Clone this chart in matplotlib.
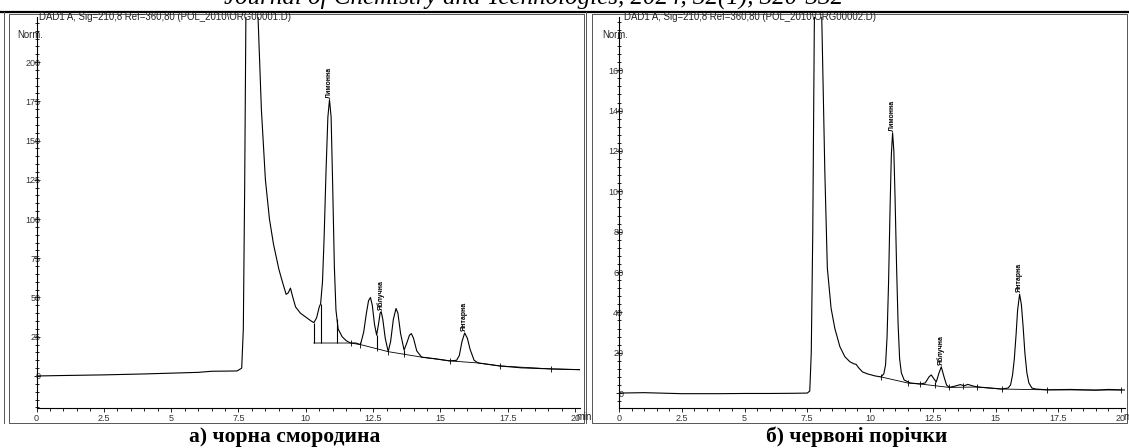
import numpy as np
import matplotlib
matplotlib.use("Agg")
import matplotlib.pyplot as plt
from matplotlib.lines import Line2D
from matplotlib.ticker import MultipleLocator

# ==============================================================================
# DATA
# ==============================================================================
# а) чорна смородина: time [min], signal [Norm.]
left_t = [0.0, 1.0, 2.5, 4.0, 5.0, 6.0, 6.5, 7.0, 7.45, 7.62, 7.68, 7.73, 7.78, 7.95,
          8.15, 8.23, 8.35, 8.5, 8.65, 8.8, 9.0, 9.13, 9.27, 9.35, 9.43, 9.52, 9.62,
          9.8, 10.0, 10.2, 10.3, 10.4, 10.5, 10.55, 10.62, 10.68, 10.75, 10.82, 10.88,
          10.94, 11.0, 11.06, 11.12, 11.2, 11.35, 11.5, 11.66, 11.85, 12.03, 12.15,
          12.25, 12.33, 12.4, 12.47, 12.55, 12.63, 12.7, 12.76, 12.8, 12.86, 12.95,
          13.06, 13.15, 13.25, 13.35, 13.42, 13.52, 13.65, 13.75, 13.85, 13.92, 14.0,
          14.12, 14.3, 14.8, 15.35, 15.6, 15.7, 15.8, 15.9, 16.0, 16.1, 16.25, 16.4,
          17.2, 18.0, 19.1, 20.2]
left_y = [0.0, 0.3, 0.7, 1.3, 1.8, 2.3, 3.0, 3.1, 3.2, 5, 30, 120, 240, 420,
          300, 227, 170, 125, 100, 84, 68, 60, 52, 53, 56, 50, 44,
          40, 37.5, 35, 34, 37, 44, 46, 60, 88, 130, 165, 176,
          165, 120, 70, 42, 30, 25, 22.5, 21, 21, 20, 28,
          40, 48, 50, 45, 33, 26, 33, 40, 41, 36, 24,
          15.5, 22, 36, 43, 40, 27, 16.5, 21, 26, 27, 24,
          16, 12, 11, 9.6, 10, 13, 22, 27.4, 24, 17, 10, 8.3,
          6.4, 5.2, 4.5, 4.0]
# integration baseline, drop lines and event marks
left_base_t = [10.3, 11.66, 12.03, 13.06, 14.3, 15.35, 16.4, 17.2, 19.1, 20.2]
left_base_y = [21, 21, 20, 15.5, 12, 9.6, 8.3, 6.4, 4.5, 4.0]
left_drop_t = [10.3, 10.55, 11.15, 12.63, 13.65]
left_drop_lo = [21, 21, 21, 17.8, 13.8]
left_drop_hi = [34, 46, 36, 26, 16.5]
left_marks_t = [11.66, 12.03, 12.63, 13.06, 13.65, 15.35, 17.2, 19.1]
left_marks_y = [21, 20, 17.8, 15.5, 13.8, 9.6, 6.4, 4.5]
left_peaks_t = [10.88, 12.8, 15.9]
left_peaks_y = [176, 41, 27.4]
left_yticks = [0, 25, 50, 75, 100, 125, 150, 175, 200]

# б) червоні порічки
right_t = [0.0, 1.0, 2.5, 4.0, 5.0, 6.0, 7.0, 7.5, 7.6, 7.66, 7.72, 7.78, 7.9, 8.0,
           8.08, 8.2, 8.3, 8.45, 8.6, 8.8, 9.0, 9.2, 9.36, 9.45, 9.55, 9.7, 9.9, 10.2,
           10.44, 10.55, 10.62, 10.68, 10.74, 10.8, 10.85, 10.9, 10.95, 11.0, 11.06,
           11.12, 11.18, 11.25, 11.36, 11.6, 12.0, 12.2, 12.35, 12.44, 12.55, 12.64,
           12.75, 12.84, 12.95, 13.05, 13.16, 13.4, 13.6, 13.75, 13.9, 14.1, 14.3,
           14.8, 15.24, 15.5, 15.6, 15.68, 15.75, 15.82, 15.88, 15.96, 16.03, 16.1,
           16.17, 16.25, 16.33, 16.45, 16.6, 17.06, 18.0, 19.0, 19.5, 20.2]
right_y = [0.0, 0.2, -0.3, -0.3, -0.2, -0.2, -0.1, 0.0, 1, 20, 80, 180, 300, 280,
           185, 110, 62, 42, 32, 23, 18, 15.5, 14.5, 14.2, 12.5, 10.5, 9.5, 8.5,
           8, 9.5, 14, 28, 55, 92, 118, 129, 120, 96, 62,
           34, 17, 10, 6.5, 5, 4.5, 5, 8, 9, 7, 5.5,
           10, 13, 8, 4, 2.8, 3.5, 4.2, 3.6, 4.3, 3.5, 3.0,
           2.5, 2.0, 2.5, 4, 9, 17, 29, 41, 49, 44, 33,
           20, 10, 5, 2.5, 2.0, 1.6, 1.8, 1.4, 1.8, 1.5]
right_base_t = [10.44, 11.5, 12.0, 13.16, 14.26, 15.24, 17.06, 20.0]
right_base_y = [8, 5, 4.5, 2.8, 3.0, 2.0, 1.6, 1.5]
right_drop_t = [12.6]
right_drop_lo = [3.8]
right_drop_hi = [5.5]
right_marks_t = [10.44, 11.5, 12.0, 12.6, 13.16, 13.7, 14.26, 15.24, 17.06, 20.0]
right_marks_y = [8, 5, 4.5, 3.8, 2.8, 3.6, 3.0, 2.0, 1.6, 1.5]
right_peaks_t = [10.9, 12.84, 15.96]
right_peaks_y = [129, 13, 49]
right_yticks = [0, 20, 40, 60, 80, 100, 120, 140, 160]

peak_names = ['Лимонна', 'Яблучна', 'Янтарна']
x_ticks = [0, 2.5, 5, 7.5, 10, 12.5, 15, 17.5, 20]

# ==============================================================================
# LAYOUT (pixel based, figure is 1129 x 448)
# ==============================================================================
W, H = 1129, 448
fig = plt.figure(figsize=(W / 100, H / 100), dpi=100)


def fx(px):
    return px / W


def fy(py):
    return 1 - py / H


def panel(x0, x1, xmax, ylim, yticks, yminor, t, y, bt, by, dt, dlo, dhi, mt, my, pt, py_):
    ax = fig.add_axes([fx(x0), fy(408), fx(x1) - fx(x0), fy(17) - fy(408)])
    ax.patch.set_alpha(0)
    ax.plot(t, y, color='black', lw=0.8)
    ax.plot(bt, by, color='black', lw=0.6)
    ax.vlines(dt, dlo, dhi, color='black', lw=0.8)
    ax.plot(mt, my, ls='none', marker='|', ms=5, mew=0.6, color='black')
    for xt, yt, name in zip(pt, py_, peak_names):
        ax.annotate(name, (xt, yt), xytext=(0, 1.5), textcoords='offset points',
                    rotation=90, ha='center', va='bottom', fontsize=5,
                    family='Liberation Sans', fontweight='bold')
    ax.set_xlim(0, xmax)
    ax.set_ylim(*ylim)
    for s in ['top', 'right']:
        ax.spines[s].set_visible(False)
    for s in ['left', 'bottom']:
        ax.spines[s].set_linewidth(0.8)
    ax.set_xticks(x_ticks)
    ax.set_xticklabels([f"{v:g}" for v in x_ticks])
    ax.xaxis.set_minor_locator(MultipleLocator(0.5))
    ax.set_yticks(yticks)
    ax.set_yticklabels([str(v) for v in yticks])
    ax.yaxis.set_minor_locator(MultipleLocator(yminor))
    ax.tick_params(axis='x', which='major', direction='out', length=3, width=0.6,
                   pad=1, labelsize=6.5, labelcolor='#333333')
    ax.tick_params(axis='x', which='minor', direction='out', length=2, width=0.6)
    ax.tick_params(axis='y', which='major', direction='inout', length=4, width=0.6,
                   pad=-5, labelsize=6.5, labelcolor='#333333')
    ax.tick_params(axis='y', which='minor', direction='inout', length=2.5, width=0.6)
    for lab in ax.get_xticklabels() + ax.get_yticklabels():
        lab.set_family('Liberation Sans')
    return ax


ax1 = panel(36.5, 580, (580 - 36.5) / 26.93, (-20.4, 228.7), left_yticks, 5,
            left_t, left_y, left_base_t, left_base_y, left_drop_t, left_drop_lo,
            left_drop_hi, left_marks_t, left_marks_y, left_peaks_t, left_peaks_y)
ax2 = panel(619, 1125, (1125 - 619) / 25.1, (-7.4, 186.4), right_yticks, 4,
            right_t, right_y, right_base_t, right_base_y, right_drop_t, right_drop_lo,
            right_drop_hi, right_marks_t, right_marks_y, right_peaks_t, right_peaks_y)

# frames and header rule
fig.add_artist(Line2D([0, 1], [fy(12), fy(12)], color='black', lw=1.6))
for xs, ys in [([9, 9, 584, 584, 9], [14, 423, 423, 14, 14]),
               ([592, 592, 1127, 1127, 592], [14, 423, 423, 14, 14]),
               ([4, 4], [12, 423]), ([586, 586], [12, 423])]:
    fig.add_artist(Line2D([fx(v) for v in xs], [fy(v) for v in ys],
                          color='#555555', lw=0.7))

# texts
fig.text(fx(534), fy(4), 'Journal of Chemistry and Technologies, 2024, 32(1), 320-332',
         ha='center', va='baseline', fontsize=18, style='italic', family='Liberation Serif')
small = dict(fontsize=6.9, family='Liberation Sans', color='#222222')
fig.text(fx(39), fy(17), r'DAD1 A, Sig=210,8 Ref=360,80 (POL_2010\ORG00001.D)',
         va='center', **small)
fig.text(fx(624), fy(17), r'DAD1 A, Sig=210,8 Ref=360,80 (POL_2010\ORG00002.D)',
         va='center', **small)
fig.text(fx(17), fy(35), 'Norm.', va='center', **small)
fig.text(fx(602), fy(35), 'Norm.', va='center', **small)
fig.text(fx(576), fy(417), 'min', va='center', **small)
fig.text(fx(1123), fy(417), 'min', va='center', **small)

cap = dict(ha='center', va='center', fontsize=15.5, fontweight='bold', family='Liberation Serif')
fig.text(fx(285), fy(437), 'а) чорна смородина', **cap)
fig.text(fx(857), fy(437), 'б) червоні порічки', **cap)

plt.savefig('out.png', dpi=100)
